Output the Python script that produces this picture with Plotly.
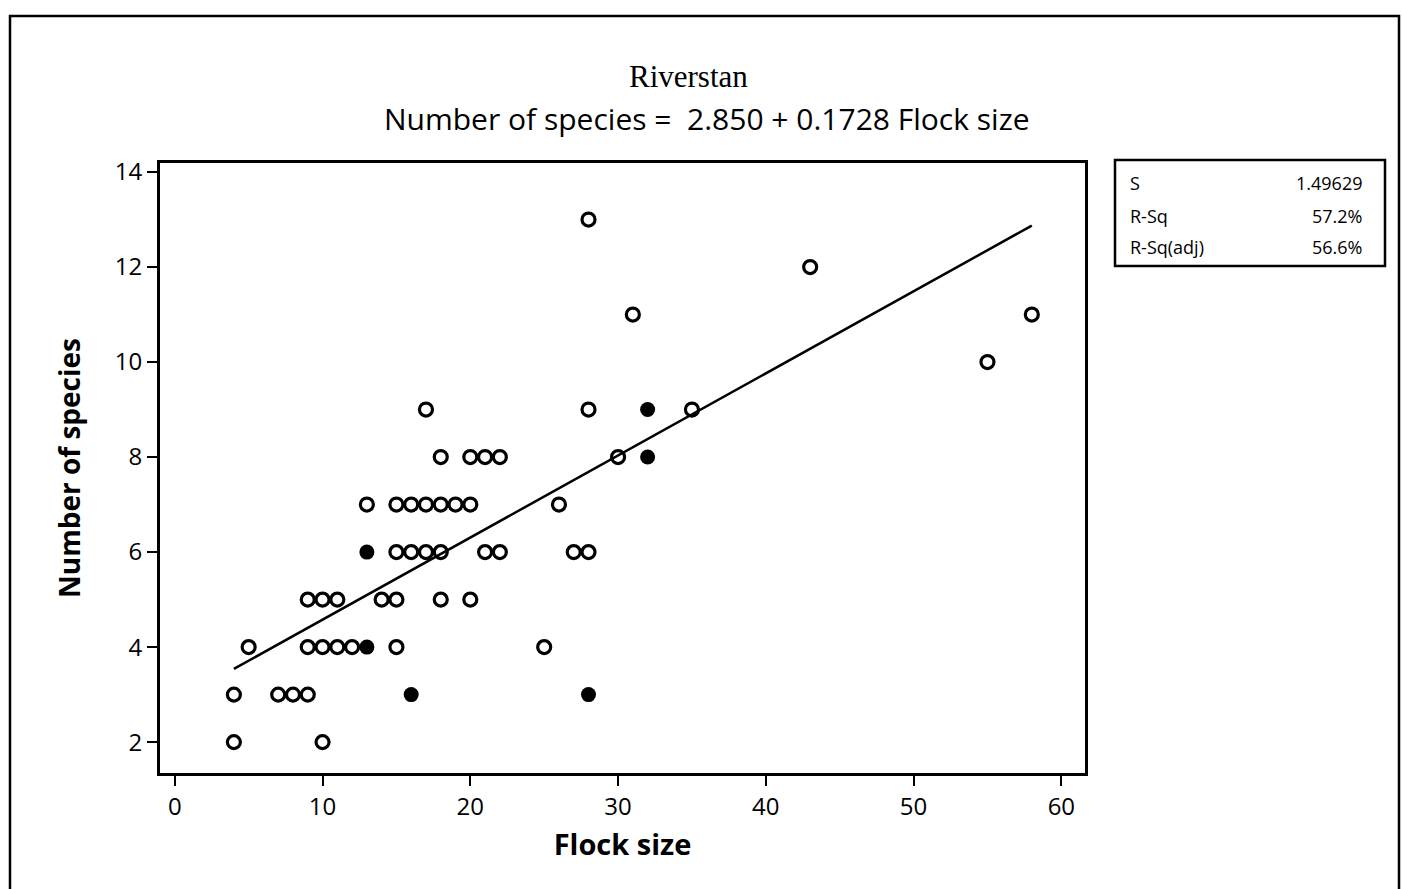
import plotly.graph_objects as go
from collections import Counter

# ---- data ----
flock_size = [4, 10, 4, 7, 8, 9, 16, 28,
              5, 9, 10, 11, 12, 13, 13, 15, 25,
              9, 10, 11, 14, 15, 18, 20,
              13, 13, 15, 16, 17, 18, 21, 22, 27, 28,
              13, 15, 16, 17, 18, 19, 20, 26,
              18, 20, 21, 22, 30, 32, 32,
              17, 28, 32, 32, 35,
              55, 31, 58, 43, 28, 16, 28]
num_species = [2, 2, 3, 3, 3, 3, 3, 3,
               4, 4, 4, 4, 4, 4, 4, 4, 4,
               5, 5, 5, 5, 5, 5, 5,
               6, 6, 6, 6, 6, 6, 6, 6, 6, 6,
               7, 7, 7, 7, 7, 7, 7, 7,
               8, 8, 8, 8, 8, 8, 8,
               9, 9, 9, 9, 9,
               10, 11, 11, 12, 13, 3, 3]
intercept = 2.850
slope = 0.1728
stat_labels = ["S", "R-Sq", "R-Sq(adj)"]
stat_values = ["1.49629", "57.2%", "56.6%"]
x_ticks = [0, 10, 20, 30, 40, 50, 60]
y_ticks = [2, 4, 6, 8, 10, 12, 14]

# count repeats -> filled markers for overlapping observations
cnt = Counter(zip(flock_size, num_species))
single = [p for p, c in cnt.items() if c == 1]
multi = [p for p, c in cnt.items() if c > 1]

fig = go.Figure()
fig.add_trace(go.Scatter(
    x=[p[0] for p in single], y=[p[1] for p in single], mode="markers",
    marker=dict(symbol="circle-open", size=13, color="black", line=dict(width=3.2)),
    showlegend=False))
fig.add_trace(go.Scatter(
    x=[p[0] for p in multi], y=[p[1] for p in multi], mode="markers",
    marker=dict(symbol="circle", size=15, color="black"),
    showlegend=False))
x0, x1 = min(flock_size), max(flock_size)
fig.add_trace(go.Scatter(
    x=[x0, x1], y=[intercept + slope * x0, intercept + slope * x1], mode="lines",
    line=dict(color="black", width=2.5), showlegend=False))

L, R, T, B = 160, 1085, 163, 773
W, H = 1402, 889
pw, ph = R - L, B - T
def px(x):
    return (x - L) / pw
def py(y):
    return (B - y) / ph

axis_common = dict(showgrid=False, zeroline=False, showline=True, linecolor="black",
                   linewidth=3, mirror=True, ticks="outside", ticklen=10,
                   tickwidth=2, tickcolor="black",
                   tickfont=dict(family="Open Sans", size=24, color="black"))
fig.update_layout(
    width=W, height=H,
    margin=dict(l=L, r=W - R, t=T, b=H - B),
    paper_bgcolor="white", plot_bgcolor="white",
    xaxis=dict(range=[-1.0, 61.6], tickvals=x_ticks,
               title=dict(text="<b>Flock size</b>", standoff=14,
                          font=dict(family="Open Sans", size=29, color="black")),
               **axis_common),
    yaxis=dict(range=[1.35, 14.19], tickvals=y_ticks,
               title=dict(text="<b>Number of species</b>", standoff=26,
                          font=dict(family="Open Sans", size=28, color="black")),
               **axis_common),
)

# outer frame
fig.add_shape(type="rect", xref="paper", yref="paper",
              x0=px(10), x1=px(1399), y0=py(905), y1=py(16),
              line=dict(color="black", width=2.5), fillcolor="rgba(0,0,0,0)")
# stats box
fig.add_shape(type="rect", xref="paper", yref="paper",
              x0=px(1115), x1=px(1385), y0=py(266), y1=py(160),
              line=dict(color="black", width=2.5), fillcolor="rgba(0,0,0,0)")
rows_y = [183, 216, 247]
for lab, val, yy in zip(stat_labels, stat_values, rows_y):
    fig.add_annotation(x=px(1128), y=py(yy), xref="paper", yref="paper", text=lab,
                       showarrow=False, xanchor="left", yanchor="middle",
                       font=dict(family="Open Sans", size=18, color="black"))
    fig.add_annotation(x=px(1364), y=py(yy), xref="paper", yref="paper", text=val,
                       showarrow=False, xanchor="right", yanchor="middle",
                       font=dict(family="Open Sans", size=18, color="black"))

# titles
fig.add_annotation(x=px(688), y=py(77), xref="paper", yref="paper",
                   text="Riverstan", showarrow=False, xanchor="center", yanchor="middle",
                   font=dict(family="Liberation Serif", size=31, color="black"))
fig.add_annotation(x=px(707), y=py(118), xref="paper", yref="paper",
                   text=f"Number of species =  {intercept:.3f} + {slope:.4f} Flock size",
                   showarrow=False, xanchor="center", yanchor="middle",
                   font=dict(family="Open Sans", size=30, color="black"))

fig.write_html("out.html")
